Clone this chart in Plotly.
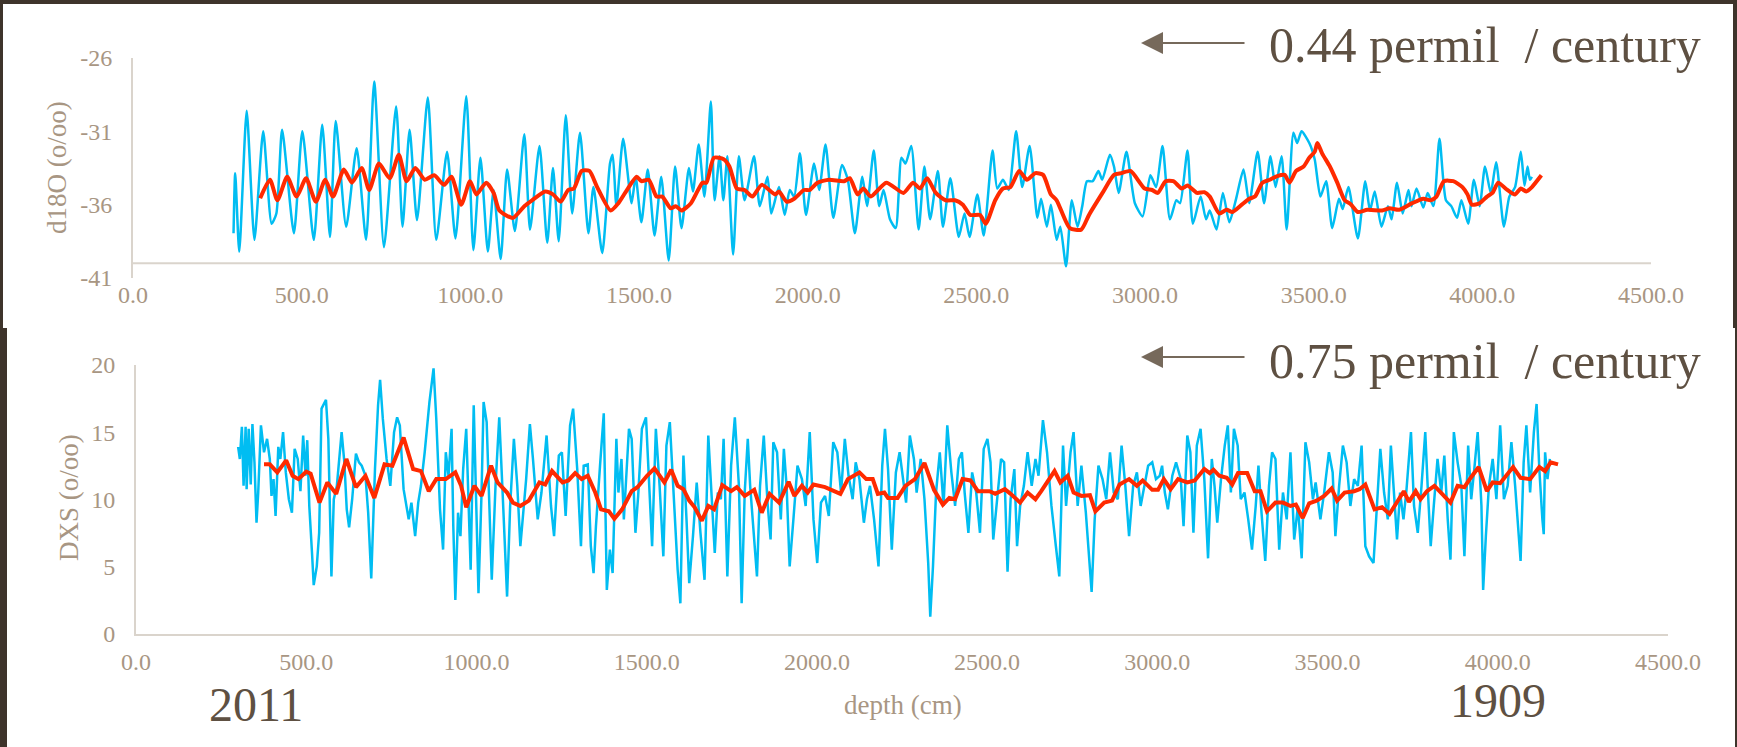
import plotly.graph_objects as go

W, H = 1737, 747

# ---------------- data ----------------
d18o_depth = [298, 303, 315, 337, 360, 386, 411, 425, 442, 477, 502, 536, 561, 584, 601, 632, 663, 691, 715, 744,
              780, 799, 820, 842, 874, 899, 931, 956, 988, 1009, 1030, 1052, 1069, 1090, 1109, 1132, 1160, 1177, 1205, 1228,
              1245, 1262, 1283, 1302, 1325, 1350, 1365, 1391, 1414, 1422, 1433, 1453, 1478, 1490, 1507, 1526, 1546, 1566, 1588, 1607,
              1626, 1648, 1660, 1677, 1694, 1713, 1724, 1739, 1750, 1762, 1779, 1796, 1813, 1841, 1858, 1881, 1892, 1915, 1932, 1947,
              1960, 1977, 1995, 2019, 2034, 2053, 2076, 2102, 2119, 2140, 2162, 2176, 2196, 2212, 2225, 2244, 2261, 2278, 2290, 2307,
              2329, 2346, 2363, 2386, 2401, 2423, 2448, 2465, 2480, 2503, 2522, 2548, 2562, 2579, 2596, 2618, 2636, 2658, 2681, 2692,
              2709, 2721, 2738, 2749, 2766, 2783, 2800, 2814, 2828, 2845, 2862, 2873, 2896, 2908, 2922, 2945, 2970, 2993, 3016, 3033,
              3052, 3074, 3093, 3104, 3126, 3142, 3165, 3181, 3192, 3212, 3231, 3250, 3270, 3292, 3309, 3334, 3353, 3372, 3387, 3405,
              3420, 3440, 3451, 3464, 3487, 3503, 3520, 3537, 3555, 3575, 3586, 3603, 3631, 3653, 3667, 3681, 3701, 3720, 3731, 3747,
              3764, 3781, 3790, 3805, 3825, 3838, 3855, 3873, 3892, 3908, 3925, 3938, 3958, 3975, 3992, 4008, 4025, 4041, 4064, 4080,
              4097, 4114, 4125, 4134, 4141, 4147]
d18o_values = [-37.95, -33.85, -39.2, -29.6, -38.4, -31.0, -37.3, -36.6, -30.9, -37.95, -31.0, -38.4, -30.55, -38.2, -30.3, -37.5, -32.15, -38.4, -27.6, -38.9,
               -29.3, -37.5, -30.9, -37.05, -28.7, -38.4, -32.4, -38.3, -28.6, -39.1, -32.8, -39.2, -35.0, -39.7, -33.6, -37.8, -31.2, -37.7, -32.0, -38.6,
               -33.5, -38.5, -29.9, -36.6, -31.1, -37.95, -34.8, -39.3, -33.2, -32.6, -36.1, -31.5, -35.9, -34.1, -37.2, -33.6, -38.1, -34.1, -39.8, -33.4,
               -37.6, -33.5, -35.1, -31.9, -35.45, -28.96, -35.7, -32.7, -35.7, -32.7, -39.4, -32.7, -35.7, -32.7, -36.1, -34.1, -36.6, -34.8, -36.7, -35.0,
               -35.45, -32.5, -36.7, -33.2, -35.0, -31.9, -36.9, -33.3, -34.3, -37.95, -34.1, -36.1, -32.3, -36.1, -35.0, -37.0, -37.6, -32.8, -33.2, -32.0,
               -37.7, -33.4, -37.0, -33.7, -37.5, -34.2, -38.2, -36.6, -38.2, -35.3, -38.1, -32.3, -34.9, -34.3, -35.0, -31.0, -34.8, -32.0, -36.9, -35.6,
               -37.5, -36.0, -38.4, -37.5, -40.2, -35.7, -37.5, -36.1, -34.4, -34.4, -33.7, -34.3, -32.6, -33.4, -35.2, -32.4, -35.9, -36.8, -34.0, -34.8,
               -32.0, -37.0, -35.7, -35.9, -32.3, -37.3, -35.45, -37.0, -36.4, -37.7, -35.2, -37.2, -35.6, -33.6, -35.9, -32.4, -35.9, -32.7, -34.8, -32.7,
               -37.7, -31.1, -31.8, -31.0, -31.8, -32.9, -35.45, -34.4, -37.6, -35.6, -36.3, -34.8, -38.3, -34.4, -36.4, -35.1, -37.5, -36.1, -37.0, -34.5,
               -36.6, -35.0, -36.1, -34.9, -36.2, -35.2, -36.1, -31.5, -35.7, -36.1, -36.9, -35.7, -37.3, -34.3, -36.1, -33.4, -35.2, -33.1, -37.5, -35.45,
               -34.8, -32.4, -34.7, -33.4, -34.3, -34.1]

d18o_smooth_depth = [377, 406, 428, 457, 485, 513, 542, 570, 593, 625, 649, 678, 700, 729, 761, 788, 811, 837, 865, 893,
                     922, 944, 973, 999, 1018, 1047, 1069, 1086, 1126, 1160, 1183, 1222, 1245, 1268, 1290, 1307, 1330, 1353, 1376, 1416,
                     1439, 1467, 1493, 1507, 1529, 1552, 1569, 1594, 1609, 1626, 1654, 1688, 1700, 1722, 1751, 1768, 1790, 1813, 1836, 1864,
                     1904, 1915, 1938, 1960, 1989, 2006, 2029, 2063, 2108, 2125, 2148, 2165, 2187, 2233, 2284, 2312, 2333, 2354, 2380, 2409,
                     2437, 2460, 2482, 2511, 2528, 2556, 2579, 2601, 2627, 2650, 2675, 2698, 2721, 2738, 2777, 2811, 2834, 2874, 2908, 2930,
                     2957, 2999, 3021, 3038, 3061, 3084, 3109, 3126, 3154, 3176, 3192, 3220, 3242, 3259, 3287, 3309, 3326, 3348, 3370, 3392,
                     3414, 3428, 3448, 3470, 3487, 3503, 3511, 3525, 3548, 3570, 3592, 3609, 3631, 3659, 3703, 3725, 3753, 3792, 3825, 3847,
                     3864, 3886, 3914, 3941, 3956, 3969, 3992, 4014, 4030, 4047, 4069, 4097, 4114, 4130, 4147, 4175]
d18o_smooth_values = [-35.56, -34.3, -35.7, -34.1, -35.45, -34.2, -35.8, -34.3, -35.45, -33.6, -34.5, -33.5, -35.0, -33.2, -34.2, -32.6, -34.4, -33.5, -34.3, -34.0,
                      -34.65, -34.1, -36.0, -34.4, -35.3, -34.5, -35.2, -36.4, -36.9, -36.1, -35.7, -35.1, -35.3, -35.8, -35.0, -34.9, -33.7, -33.7, -34.8, -36.4,
                      -35.9, -34.9, -34.1, -34.4, -34.3, -35.45, -35.45, -36.25, -36.1, -36.4, -35.9, -34.5, -34.5, -32.8, -32.9, -33.4, -34.9, -35.0, -35.45, -34.65,
                      -35.3, -35.1, -35.8, -35.6, -35.0, -35.0, -34.5, -34.3, -34.4, -34.2, -35.3, -34.9, -35.45, -34.5, -35.2, -34.5, -34.9, -34.2, -35.2, -35.7,
                      -35.7, -36.0, -36.7, -36.7, -37.3, -35.7, -34.9, -34.8, -33.7, -34.3, -33.85, -33.97, -35.3, -35.7, -37.6, -37.7, -36.7, -35.2, -33.97, -33.85,
                      -33.7, -34.9, -35.0, -35.2, -34.4, -34.4, -34.9, -34.7, -35.2, -35.15, -35.45, -36.6, -36.35, -36.5, -36.0, -35.6, -35.45, -34.5, -34.3, -34.05,
                      -33.97, -34.5, -33.7, -33.4, -32.8, -32.4, -31.8, -32.5, -33.4, -34.5, -35.7, -35.95, -36.5, -36.35, -36.4, -36.25, -36.35, -35.9, -35.6, -35.7,
                      -35.45, -34.4, -34.4, -34.8, -35.3, -36.0, -35.9, -35.45, -35.2, -34.5, -34.9, -35.3, -34.9, -35.1, -34.8, -34.0]

dxs_depth = [300, 305, 311, 316, 322, 325, 331, 337, 342, 348, 354, 359, 367, 376, 385, 393, 398, 404, 410, 418,
             424, 432, 440, 449, 458, 466, 475, 483, 491, 498, 503, 509, 517, 522, 531, 538, 545, 551, 558, 565,
             574, 581, 590, 604, 612, 619, 626, 635, 646, 655, 663, 674, 682, 691, 702, 711, 717, 725, 736, 747,
             758, 767, 775, 786, 801, 809, 820, 829, 837, 848, 862, 874, 882, 893, 902, 910, 918, 927, 932, 938,
             946, 953, 961, 970, 977, 983, 992, 1000, 1006, 1015, 1021, 1030, 1045, 1056, 1067, 1076, 1090, 1099, 1110, 1120,
             1129, 1146, 1157, 1166, 1180, 1191, 1206, 1219, 1228, 1242, 1251, 1262, 1275, 1284, 1296, 1307, 1315, 1327, 1336, 1344,
             1351, 1363, 1374, 1383, 1392, 1400, 1411, 1417, 1426, 1433, 1448, 1456, 1467, 1475, 1486, 1498, 1507, 1516, 1527, 1538,
             1549, 1558, 1568, 1580, 1591, 1599, 1608, 1617, 1625, 1636, 1647, 1658, 1670, 1681, 1692, 1700, 1709, 1718, 1726, 1737,
             1748, 1759, 1771, 1779, 1788, 1797, 1804, 1816, 1824, 1833, 1844, 1855, 1864, 1872, 1883, 1894, 1903, 1911, 1920, 1931,
             1943, 1956, 1967, 1979, 1990, 2001, 2012, 2024, 2035, 2048, 2060, 2071, 2082, 2093, 2105, 2114, 2125, 2138, 2147, 2156,
             2168, 2181, 2192, 2200, 2209, 2220, 2232, 2243, 2254, 2262, 2273, 2285, 2293, 2305, 2316, 2327, 2333, 2341, 2350, 2361,
             2372, 2383, 2395, 2406, 2417, 2426, 2434, 2445, 2456, 2468, 2479, 2490, 2501, 2510, 2518, 2529, 2541, 2550, 2560, 2569,
             2580, 2588, 2597, 2608, 2619, 2631, 2642, 2651, 2664, 2676, 2689, 2702, 2712, 2723, 2732, 2745, 2754, 2766, 2777, 2790,
             2799, 2807, 2816, 2827, 2839, 2850, 2861, 2872, 2884, 2895, 2906, 2917, 2929, 2940, 2951, 2962, 2973, 2985, 2996, 3007,
             3014, 3022, 3031, 3044, 3055, 3069, 3077, 3088, 3097, 3106, 3116, 3127, 3138, 3149, 3160, 3168, 3176, 3187, 3198, 3207,
             3216, 3225, 3236, 3245, 3256, 3267, 3278, 3289, 3297, 3306, 3317, 3328, 3337, 3347, 3358, 3369, 3380, 3391, 3402, 3413,
             3424, 3435, 3446, 3457, 3465, 3479, 3490, 3504, 3515, 3523, 3534, 3545, 3556, 3567, 3578, 3589, 3600, 3611, 3622, 3635,
             3646, 3655, 3666, 3677, 3686, 3696, 3704, 3713, 3723, 3732, 3745, 3754, 3765, 3776, 3787, 3794, 3803, 3812, 3823, 3834,
             3843, 3853, 3861, 3871, 3882, 3893, 3902, 3913, 3922, 3931, 3941, 3952, 3957, 3965, 3974, 3985, 3996, 4007, 4018, 4029,
             4040, 4051, 4067, 4076, 4084, 4095, 4106, 4114, 4122, 4131, 4135, 4139, 4146, 4153]
dxs_values = [13.9, 13.0, 15.4, 11.0, 15.4, 10.75, 15.25, 11.1, 15.6, 12.75, 8.25, 10.5, 15.5, 13.5, 14.5, 13.0, 10.25, 11.5, 8.75, 13.9,
              13.0, 15.0, 12.0, 10.0, 9.0, 13.75, 13.0, 10.6, 14.75, 11.75, 14.4, 9.5, 6.0, 3.6, 5.0, 7.5, 16.75, 17.0, 17.4, 14.5,
              4.25, 10.0, 11.0, 15.0, 12.75, 9.25, 7.9, 10.0, 13.4, 12.75, 12.5, 11.75, 9.0, 4.1, 12.25, 17.0, 18.9, 16.0, 13.0, 11.0,
              15.0, 16.1, 15.5, 10.75, 8.5, 9.75, 7.25, 9.75, 11.0, 13.5, 17.25, 19.75, 16.0, 9.25, 6.25, 13.5, 11.75, 15.25, 8.0, 2.5,
              9.0, 7.25, 12.25, 15.25, 9.5, 4.75, 17.0, 8.5, 3.0, 10.5, 17.25, 15.75, 4.0, 11.0, 16.1, 11.0, 2.75, 9.5, 14.5, 11.0,
              6.5, 11.5, 15.6, 13.0, 8.5, 10.5, 14.75, 9.5, 7.25, 13.25, 13.5, 8.75, 15.5, 16.75, 12.25, 6.5, 12.5, 12.6, 6.5, 4.5,
              8.0, 12.5, 16.4, 3.25, 6.25, 4.5, 14.5, 10.5, 13.0, 8.5, 15.25, 14.5, 7.5, 10.25, 15.25, 16.1, 11.5, 6.5, 15.25, 11.0,
              5.75, 14.0, 15.75, 9.75, 4.75, 2.25, 13.25, 8.5, 3.75, 7.25, 11.25, 7.5, 4.0, 14.75, 9.75, 6.0, 10.5, 10.0, 14.5, 4.25,
              12.5, 16.1, 11.0, 2.25, 10.5, 14.5, 11.0, 7.25, 4.25, 11.0, 14.75, 9.75, 7.0, 14.25, 13.5, 8.5, 13.75, 11.0, 5.0, 8.5,
              12.5, 11.5, 9.5, 15.0, 8.5, 5.25, 9.75, 10.25, 8.75, 14.25, 13.5, 10.5, 14.5, 11.75, 10.0, 12.75, 11.5, 8.25, 10.0, 11.0,
              8.5, 5.0, 12.5, 15.25, 12.25, 6.25, 12.0, 13.5, 11.5, 9.75, 14.75, 13.0, 10.5, 13.0, 10.0, 5.25, 1.25, 5.0, 10.5, 13.5,
              9.5, 15.5, 12.0, 9.5, 13.0, 13.5, 10.5, 7.5, 12.0, 10.5, 7.5, 13.75, 14.5, 12.75, 7.0, 10.0, 13.0, 12.75, 4.6, 10.0,
              12.25, 6.5, 9.5, 11.0, 13.5, 11.0, 13.0, 11.75, 15.9, 13.5, 9.5, 6.5, 4.25, 14.0, 9.5, 13.5, 15.0, 9.5, 12.5, 9.0,
              6.0, 3.1, 8.5, 12.5, 11.5, 10.0, 13.5, 10.5, 10.0, 14.0, 11.0, 7.25, 11.0, 12.0, 9.5, 11.0, 12.5, 12.75, 11.5, 11.75,
              12.5, 10.5, 9.25, 11.75, 12.75, 11.5, 8.0, 14.75, 13.5, 7.5, 14.0, 15.25, 11.5, 5.6, 13.0, 11.0, 8.25, 11.5, 14.0, 15.5,
              10.5, 15.25, 14.0, 10.0, 10.5, 8.5, 6.25, 9.5, 12.5, 9.0, 5.4, 11.0, 13.5, 13.0, 6.25, 10.5, 8.5, 13.5, 7.0, 9.5,
              5.6, 14.25, 12.75, 10.0, 11.25, 8.5, 10.5, 13.5, 12.0, 7.25, 11.0, 14.0, 12.75, 9.5, 11.5, 11.0, 14.0, 6.5, 5.75, 5.25,
              10.0, 13.75, 10.5, 8.5, 14.0, 10.0, 7.0, 10.5, 8.5, 10.75, 15.0, 9.5, 7.5, 11.0, 15.0, 11.0, 6.5, 9.5, 13.0, 10.5,
              13.25, 8.5, 5.5, 15.0, 12.75, 11.0, 5.75, 14.0, 10.0, 12.25, 15.0, 9.5, 3.25, 7.25, 11.0, 13.0, 10.0, 15.5, 10.0, 11.0,
              14.25, 11.0, 5.4, 12.75, 15.5, 10.5, 15.0, 17.1, 12.25, 8.5, 7.4, 13.5, 11.5, 13.0]

dxs_smooth_depth = [376, 393, 415, 441, 460, 477, 500, 513, 539, 562, 588, 618, 646, 674, 700, 730, 753, 786, 814, 837,
                    860, 882, 910, 938, 955, 970, 994, 1015, 1043, 1062, 1090, 1107, 1129, 1154, 1185, 1202, 1222, 1253, 1270, 1290,
                    1309, 1327, 1349, 1366, 1389, 1405, 1428, 1456, 1473, 1501, 1523, 1552, 1572, 1591, 1608, 1625, 1641, 1662, 1681, 1698,
                    1722, 1748, 1765, 1788, 1816, 1838, 1861, 1889, 1917, 1934, 1956, 1973, 1990, 2024, 2069, 2091, 2125, 2145, 2164, 2179,
                    2198, 2209, 2237, 2260, 2288, 2316, 2344, 2370, 2389, 2406, 2428, 2451, 2473, 2507, 2524, 2552, 2569, 2597, 2619, 2642,
                    2659, 2687, 2698, 2715, 2737, 2754, 2777, 2802, 2818, 2844, 2867, 2889, 2917, 2940, 2957, 2985, 3002, 3019, 3039, 3061,
                    3088, 3110, 3138, 3154, 3165, 3182, 3204, 3220, 3237, 3264, 3286, 3303, 3322, 3347, 3369, 3391, 3407, 3427, 3446, 3468,
                    3490, 3512, 3528, 3550, 3578, 3594, 3611, 3638, 3660, 3682, 3704, 3724, 3739, 3759, 3773, 3792, 3814, 3836, 3861, 3882,
                    3902, 3919, 3944, 3968, 3985, 4007, 4023, 4045, 4067, 4095, 4122, 4139, 4155, 4177]
dxs_smooth_values = [12.6, 12.6, 12.0, 12.9, 11.75, 11.5, 12.05, 11.9, 9.75, 11.25, 10.4, 13.0, 10.9, 11.75, 10.1, 12.6, 12.5, 14.6, 12.25, 12.1,
                     10.6, 11.5, 11.5, 12.0, 11.0, 9.4, 11.0, 10.25, 12.5, 11.25, 10.5, 9.75, 9.5, 9.9, 11.25, 11.1, 12.1, 11.25, 11.4, 11.95,
                     11.5, 11.75, 10.5, 9.25, 9.1, 8.55, 9.25, 10.6, 10.9, 11.75, 12.3, 11.25, 12.2, 11.0, 10.75, 9.9, 9.4, 8.4, 9.5, 9.25,
                     11.05, 10.6, 10.9, 10.25, 10.7, 9.0, 10.4, 9.75, 11.3, 10.25, 11.0, 10.5, 11.1, 10.9, 10.4, 11.5, 12.0, 11.5, 11.5, 10.4,
                     10.5, 10.1, 10.1, 11.0, 11.5, 12.7, 10.7, 9.6, 10.1, 10.0, 11.5, 11.4, 10.6, 10.6, 10.4, 10.75, 10.4, 9.75, 10.5, 10.0,
                     10.6, 11.75, 12.1, 11.25, 11.75, 10.5, 10.25, 10.3, 9.1, 9.75, 9.9, 11.1, 11.5, 11.0, 11.4, 10.7, 10.7, 11.5, 10.75, 11.5,
                     11.25, 11.4, 12.25, 11.95, 12.2, 11.75, 11.6, 11.1, 11.95, 11.95, 10.6, 10.6, 9.1, 9.75, 9.75, 9.5, 9.6, 8.6, 9.7, 9.9,
                     10.25, 10.8, 9.9, 10.5, 10.6, 10.75, 11.1, 9.25, 9.4, 8.9, 9.75, 10.6, 9.8, 10.6, 10.0, 10.6, 11.0, 10.4, 9.75, 11.0,
                     10.9, 11.55, 12.4, 10.6, 11.25, 11.2, 11.75, 12.4, 11.6, 11.5, 12.4, 12.1, 12.75, 12.6]

x_ticks = [0, 500, 1000, 1500, 2000, 2500, 3000, 3500, 4000, 4500]
x_labels = ["0.0", "500.0", "1000.0", "1500.0", "2000.0", "2500.0", "3000.0", "3500.0", "4000.0", "4500.0"]
d18o_ticks = [-41, -36, -31, -26]
d18o_labels = ["-41", "-36", "-31", "-26"]
dxs_ticks = [0, 5, 10, 15, 20]
dxs_labels = ["0", "5", "10", "15", "20"]
top_note = "0.44 permil&nbsp; / century"
bottom_note = "0.75 permil&nbsp; / century"
year_start, year_end = "2011", "1909"

# ---------------- styling ----------------
FONT = "Liberation Serif, serif"
TICK_C = "#a89683"
NOTE_C = "#5e5042"
AXIS_C = "#dad4cc"
BLUE = "#00bdf2"
RED = "#ff2a00"
BG = "#3e342b"


def px(x):
    return x / W


def py(y):
    return 1 - y / H


fig = go.Figure()
fig.add_trace(go.Scatter(x=d18o_depth, y=d18o_values, mode="lines", line=dict(color=BLUE, width=2.5, shape="spline", smoothing=0.6),
                         xaxis="x", yaxis="y", showlegend=False))
fig.add_trace(go.Scatter(x=d18o_smooth_depth, y=d18o_smooth_values, mode="lines", line=dict(color=RED, width=4, shape="spline", smoothing=0.6),
                         xaxis="x", yaxis="y", showlegend=False))
fig.add_trace(go.Scatter(x=dxs_depth, y=dxs_values, mode="lines", line=dict(color=BLUE, width=2.5),
                         xaxis="x2", yaxis="y2", showlegend=False))
fig.add_trace(go.Scatter(x=dxs_smooth_depth, y=dxs_smooth_values, mode="lines", line=dict(color=RED, width=4),
                         xaxis="x2", yaxis="y2", showlegend=False))

tickfont = dict(family=FONT, size=24, color=TICK_C)

fig.update_layout(
    width=W, height=H, autosize=False,
    margin=dict(l=0, r=0, t=0, b=0, pad=0, autoexpand=False),
    paper_bgcolor=BG, plot_bgcolor="rgba(0,0,0,0)",
    showlegend=False,
    xaxis=dict(domain=[px(133), px(1651)], range=[0, 4500], tickvals=x_ticks, ticktext=x_labels,
               showgrid=False, zeroline=False, showline=False, ticks="", tickfont=tickfont,
               anchor="y", ticklabelstandoff=0, automargin=False),
    yaxis=dict(domain=[py(278), py(58)], range=[-41, -26], tickvals=d18o_ticks, ticktext=d18o_labels,
               showgrid=False, zeroline=False, showline=True, linecolor=AXIS_C, linewidth=2,
               ticks="", tickfont=tickfont, anchor="x", ticklabelstandoff=14, automargin=False),
    xaxis2=dict(domain=[px(136), px(1668)], range=[0, 4500], tickvals=x_ticks, ticktext=x_labels,
                showgrid=False, zeroline=False, showline=True, linecolor=AXIS_C, linewidth=2,
                ticks="", tickfont=tickfont, anchor="y2", ticklabelstandoff=6, automargin=False),
    yaxis2=dict(domain=[py(633.5), py(365)], range=[0, 20], tickvals=dxs_ticks, ticktext=dxs_labels,
                showgrid=False, zeroline=False, showline=True, linecolor=AXIS_C, linewidth=2,
                ticks="", tickfont=tickfont, anchor="x2", ticklabelstandoff=14, automargin=False),
)

shapes = [
    dict(type="rect", xref="paper", yref="paper", x0=px(3), x1=px(1733), y0=py(328), y1=py(4),
         fillcolor="white", line=dict(width=0), layer="below"),
    dict(type="rect", xref="paper", yref="paper", x0=px(7), x1=px(1735), y0=py(H), y1=py(328),
         fillcolor="white", line=dict(width=0), layer="below"),
    # horizontal axis of the top chart crosses at -40
    dict(type="line", xref="x", yref="y", x0=0, x1=4500, y0=-40, y1=-40,
         line=dict(color=AXIS_C, width=2), layer="below"),
]
fig.update_layout(shapes=shapes)


def label(text, x, y, size, color, angle=0):
    return dict(text=text, x=px(x), y=py(y), xref="paper", yref="paper", textangle=angle,
                xanchor="center", yanchor="middle", showarrow=False,
                font=dict(family=FONT, size=size, color=color))


ann = [
    label("d18O (o/oo)", 57, 168, 27, TICK_C, -90),
    label("DXS (o/oo)", 69, 498, 27, TICK_C, -90),
    label("depth (cm)", 903, 705, 27, TICK_C),
    label(year_start, 256, 704, 48, NOTE_C),
    label(year_end, 1498, 700, 48, NOTE_C),
]
for note, ytxt, yarr in ((top_note, 45, 43), (bottom_note, 361, 357)):
    ann.append(label(note, 1485, ytxt, 50, NOTE_C))
    ann.append(dict(text="", x=px(1141), y=py(yarr), xref="paper", yref="paper",
                    showarrow=True, ax=105, ay=0, axref="pixel", ayref="pixel",
                    arrowhead=2, arrowsize=2.2, arrowwidth=2, arrowcolor="#76695b"))
fig.update_layout(annotations=ann)

fig.write_html("out.html", config={"displayModeBar": False, "responsive": False},
               post_script="document.body.style.margin='0';document.body.style.overflow='hidden';")
